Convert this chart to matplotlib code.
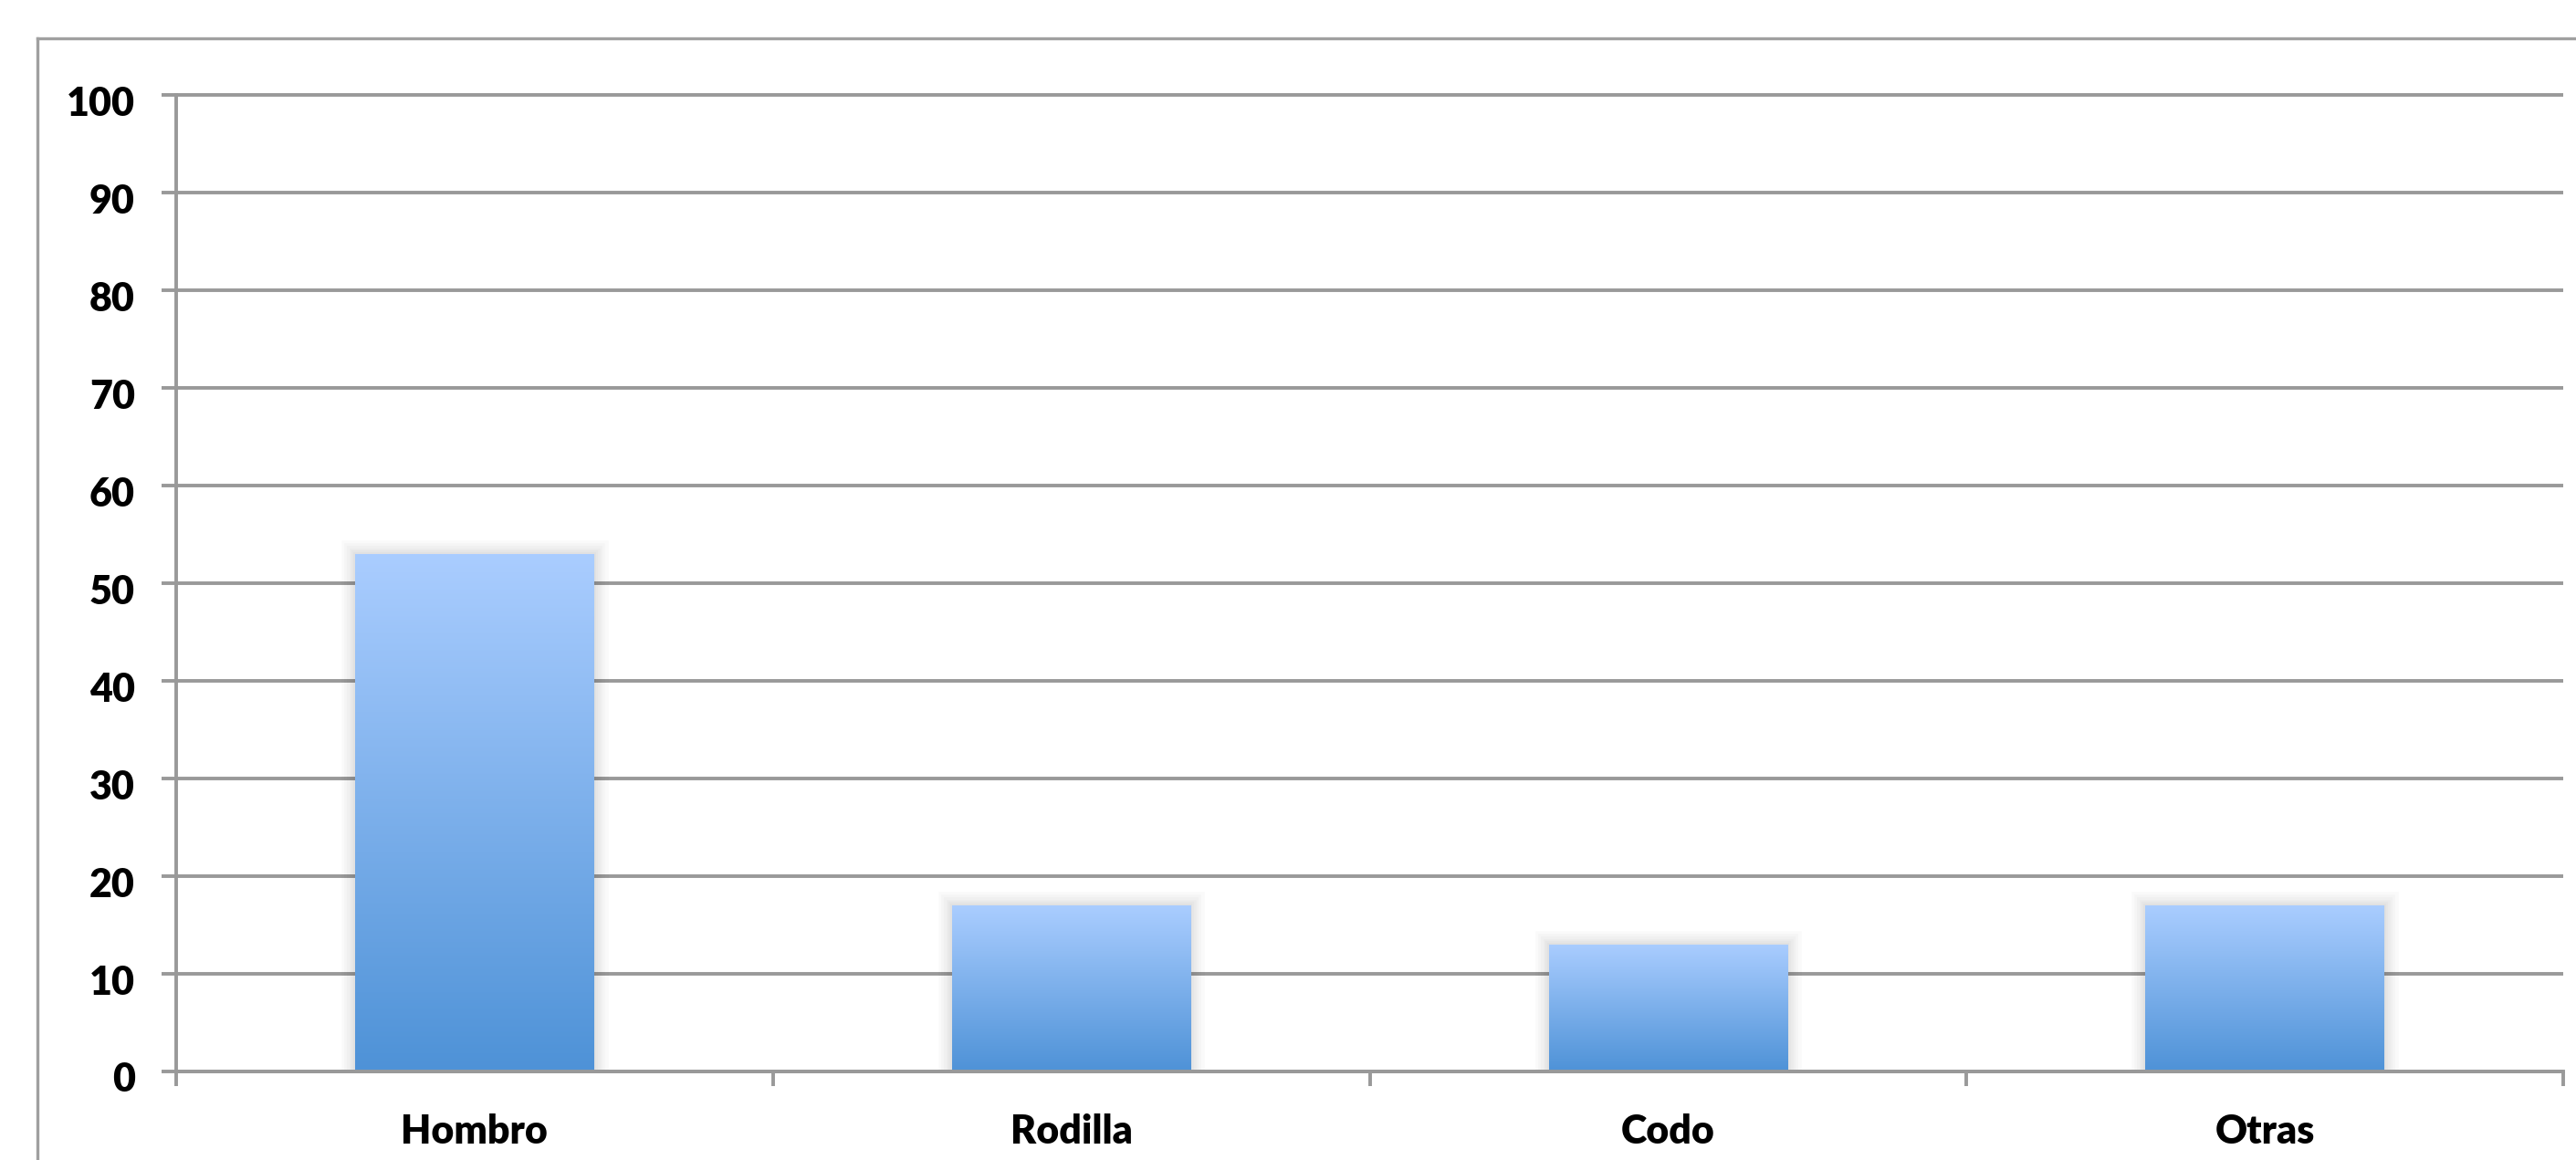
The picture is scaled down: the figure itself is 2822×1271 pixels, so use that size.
import numpy as np
import matplotlib
matplotlib.use("Agg")
import matplotlib.pyplot as plt
from matplotlib.lines import Line2D
from matplotlib.transforms import ScaledTranslation
import matplotlib.patheffects as pe

categories = ["Hombro", "Rodilla", "Codo", "Otras"]
values = [53, 17, 13, 17]
yticks = [0, 10, 20, 30, 40, 50, 60, 70, 80, 90, 100]

W, H, DPI = 2822, 1271, 100
plt.rcParams['font.family'] = ['Lato', 'DejaVu Sans']
fig = plt.figure(figsize=(W / DPI, H / DPI), dpi=DPI)
fig.patch.set_facecolor("white")

left, right = 193 / W, 2808 / W
bottom, top = 1 - 1174 / H, 1 - 104.3 / H
ax = fig.add_axes([left, bottom, right - left, top - bottom])

GRID = "#999999"
LW = 2.8  # points
FS = 31
FW = "heavy"

x = np.arange(len(categories))
ax.set_xlim(-0.5, len(categories) - 0.5)
ax.set_ylim(0, 100)

# gridlines
ax.hlines(yticks, -0.5, len(categories) - 0.5, colors=GRID, linewidth=LW,
          zorder=1, clip_on=False)

# gradient bars
grad = np.linspace(0, 1, 256).reshape(-1, 1)
top_c = np.array([170, 205, 255]) / 255
bot_c = np.array([78, 146, 215]) / 255
img = (bot_c[None, None, :] * (1 - grad[:, :, None]) + top_c[None, None, :] * grad[:, :, None])

shadow = [pe.Stroke(linewidth=w, foreground="black", alpha=0.018, joinstyle="miter")
          for w in (22, 17, 13, 9, 6, 3)] + [pe.Normal()]
bars = ax.bar(x, values, width=0.4, color=(0.5, 0.7, 0.9), linewidth=0, zorder=2)
for b in bars:
    b.set_path_effects(shadow)
    x0, y0 = b.get_x(), b.get_y()
    im = ax.imshow(img, extent=[x0, x0 + b.get_width(), y0, y0 + b.get_height()],
                   origin="lower", aspect="auto", zorder=3, interpolation="bilinear")
    im.set_clip_path(b)
ax.set_xlim(-0.5, len(categories) - 0.5)
ax.set_ylim(0, 100)

# spines
for s in ["top", "right"]:
    ax.spines[s].set_visible(False)
for s in ["left", "bottom"]:
    ax.spines[s].set_color(GRID)
    ax.spines[s].set_linewidth(LW)
    ax.spines[s].set_zorder(4)

# ticks
ax.set_yticks(yticks)
ax.set_yticklabels([str(v) for v in yticks])
ax.tick_params(axis="y", direction="out", length=11.5, width=LW, color=GRID,
               pad=21, labelsize=FS)
for lab in ax.get_yticklabels():
    lab.set_fontweight(FW)
    lab.set_transform(lab.get_transform() + ScaledTranslation(0, -6 / DPI, fig.dpi_scale_trans))

ax.set_xticks(np.arange(len(categories) + 1) - 0.5)
ax.set_xticklabels([])
ax.set_xticks(x, minor=True)
ax.set_xticklabels(categories, minor=True)
ax.tick_params(axis="x", which="major", direction="out", length=11.5, width=LW, color=GRID)
ax.tick_params(axis="x", which="minor", length=0, pad=33, labelsize=FS)
for lab in ax.get_xticklabels(minor=True):
    lab.set_fontweight(FW)

# outer chart border (left + top)
bx, by = 40.7 / W, 1 - 41.7 / H
fig.add_artist(Line2D([bx, bx], [0, by], transform=fig.transFigure, color="#A0A0A0", linewidth=2.4))
fig.add_artist(Line2D([bx, 1], [by, by], transform=fig.transFigure, color="#A0A0A0", linewidth=2.4))

fig.savefig("out.png", dpi=DPI, facecolor="white")
